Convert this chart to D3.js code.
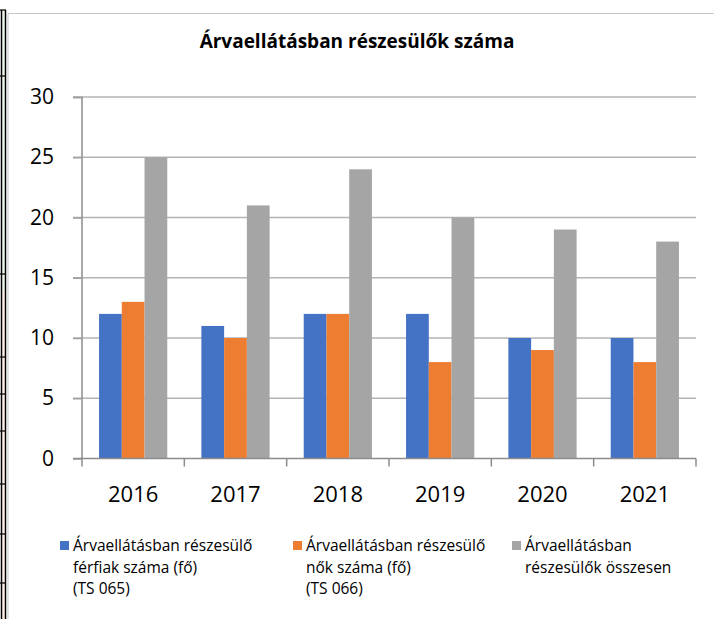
<!DOCTYPE html>
<html>
<head>
<meta charset="utf-8">
<style>
    body { margin: 0; background: #fff; }
    svg { display: block; font-family: 'Open Sans', sans-serif; }
</style>
</head>
<body>
<svg width="714" height="619"></svg>
<script src="https://d3js.org/d3.v7.min.js"></script>
<script>
    // data
    let years = ["2016", "2017", "2018", "2019", "2020", "2021"];
    let ferfiak = [12, 11, 12, 12, 10, 10];
    let nok = [13, 10, 12, 8, 9, 8];
    let osszesen = [25, 21, 24, 20, 19, 18];
    let yTicks = [0, 5, 10, 15, 20, 25, 30];

    let seriesNames = ["ferfiak", "nok", "osszesen"];
    let seriesValues = [ferfiak, nok, osszesen];
    let colors = ["#4472C4", "#ED7D31", "#A5A5A5"];
    let legendLines = [
        ["Árvaellátásban részesülő", "férfiak száma (fő)", "(TS 065)"],
        ["Árvaellátásban részesülő", "nők száma (fő)", "(TS 066)"],
        ["Árvaellátásban", "részesülők összesen"]
    ];

    let svg = d3.select("svg");

    // page decoration on the left (table border of the document)
    let deco = svg.append("g");
    deco.append("rect").attr("x", 1).attr("y", 10).attr("width", 5).attr("height", 280).attr("fill", "#eef6ea");
    deco.append("rect").attr("x", 1).attr("y", 290).attr("width", 5).attr("height", 329).attr("fill", "#fdefe6");
    deco.append("line").attr("x1", 1.5).attr("x2", 1.5).attr("y1", 10).attr("y2", 619).attr("stroke", "#000").attr("stroke-width", 1.5);
    deco.append("line").attr("x1", 5.5).attr("x2", 5.5).attr("y1", 10).attr("y2", 619).attr("stroke", "#000").attr("stroke-width", 1.5);
    deco.selectAll("line.rowline")
        .data([10, 76, 274, 357, 394, 431, 484, 534, 583])
        .join("line")
        .attr("class", "rowline")
        .attr("x1", 0).attr("x2", 6)
        .attr("y1", d => d).attr("y2", d => d)
        .attr("stroke", "#000").attr("stroke-width", 1.2);

    // chart frame
    svg.append("path")
        .attr("d", "M8,619 V13.5 H714")
        .attr("fill", "none")
        .attr("stroke", "#c8c8c8")
        .attr("stroke-width", 1);

    let x0 = d3.scaleBand().domain(years).range([82, 696]).padding(0);
    let x1 = d3.scaleBand().domain(seriesNames).range([0, x0.bandwidth()]).paddingInner(0).paddingOuter(0.75);
    let y = d3.scaleLinear().domain([0, 30]).range([458.5, 97]);

    // title
    svg.append("text")
        .attr("x", 357)
        .attr("y", 48)
        .attr("text-anchor", "middle")
        .style("font-weight", "bold")
        .style("font-size", "19px")
        .text("Árvaellátásban részesülők száma");

    // gridlines
    svg.append("g")
        .selectAll("line")
        .data(yTicks.filter(d => d > 0))
        .join("line")
        .attr("x1", 73).attr("x2", 696)
        .attr("y1", d => y(d)).attr("y2", d => y(d))
        .attr("stroke", "#b4b4b4")
        .attr("stroke-width", 1.5);

    // bars
    svg.append("g")
        .selectAll("g")
        .data(seriesNames)
        .join("g")
        .attr("fill", (d, i) => colors[i])
        .selectAll("rect")
        .data((d, i) => seriesValues[i].map((v, j) => ({ year: years[j], value: v, s: d })))
        .join("rect")
        .attr("x", d => x0(d.year) + x1(d.s))
        .attr("y", d => y(d.value))
        .attr("width", x1.bandwidth())
        .attr("height", d => y(0) - y(d.value));

    // y axis
    let yAxis = svg.append("g")
        .attr("transform", "translate(82,0)")
        .call(d3.axisLeft(y).tickValues(yTicks).tickSize(9).tickPadding(19));
    yAxis.select(".domain").attr("stroke", "#8c8c8c").attr("stroke-width", 1.5).attr("d", "M-9,97.5H0V458.5");
    yAxis.selectAll(".tick line").attr("stroke", "#a0a0a0").attr("stroke-width", 1.5);
    yAxis.selectAll(".tick text")
        .attr("fill", "#000")
        .style("font-size", "21px")
        .style("font-family", "'Open Sans', sans-serif");

    // x axis
    let xAxis = svg.append("g");
    xAxis.append("line")
        .attr("x1", 73).attr("x2", 696)
        .attr("y1", y(0)).attr("y2", y(0))
        .attr("stroke", "#8c8c8c").attr("stroke-width", 1.5);
    let edges = years.map(d => x0(d)).concat([x0(years[years.length - 1]) + x0.bandwidth()]);
    xAxis.selectAll("line.tk")
        .data(edges)
        .join("line")
        .attr("class", "tk")
        .attr("x1", d => d).attr("x2", d => d)
        .attr("y1", y(0)).attr("y2", y(0) + 8)
        .attr("stroke", "#8c8c8c").attr("stroke-width", 1.5);
    xAxis.selectAll("text")
        .data(years)
        .join("text")
        .attr("x", d => x0(d) + x0.bandwidth() / 2)
        .attr("y", 502)
        .attr("text-anchor", "middle")
        .style("font-size", "22px")
        .text(d => d);

    // legend
    let legendX = [60, 293, 512];
    let legend = svg.append("g")
        .selectAll("g")
        .data(legendLines)
        .join("g")
        .attr("transform", (d, i) => `translate(${legendX[i]},0)`);
    legend.append("rect")
        .attr("x", 0).attr("y", 541)
        .attr("width", 9).attr("height", 9)
        .attr("fill", (d, i) => colors[i]);
    legend.selectAll("text")
        .data(d => d)
        .join("text")
        .attr("x", 13)
        .attr("y", (d, i) => 551 + i * 21.5)
        .style("font-size", "15.5px")
        .text(d => d);
</script>
</body>
</html>
